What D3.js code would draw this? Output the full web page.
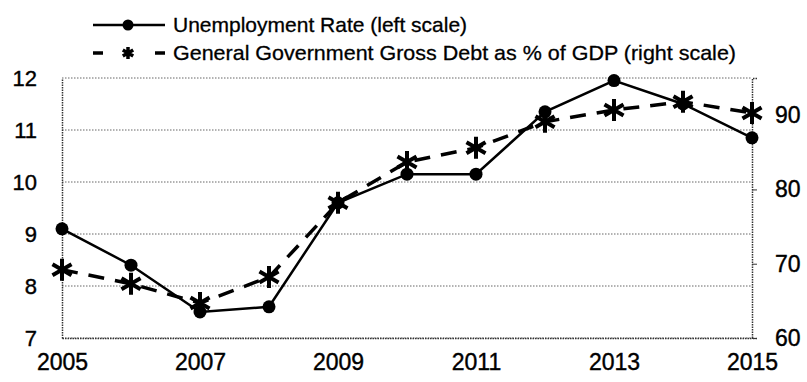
<!DOCTYPE html>
<html>
<head>
<meta charset="utf-8">
<script src="https://cdn.jsdelivr.net/npm/d3@7"></script>
<style>
html,body{margin:0;padding:0;background:#fff;}
svg{display:block;font-family:"Liberation Sans",Arial,sans-serif;}
</style>
</head>
<body>
<svg id="chart" width="807" height="382"></svg>
<script>
const years = [2005,2006,2007,2008,2009,2010,2011,2012,2013,2014,2015];
const unemployment = [9.1,8.4,7.5,7.6,9.6,10.15,10.15,11.35,11.95,11.5,10.85];
const debt = [69.2,67.3,64.7,68.2,78.2,83.7,85.6,89.1,90.7,91.8,90.3];
const leftTicks = [7,8,9,10,11,12];
const rightTicks = [60,70,80,90];
const xTickLabels = [2005,2007,2009,2011,2013,2015];
const legendLabels = ["Unemployment Rate (left scale)","General Government Gross Debt as % of GDP (right scale)"];

const svg = d3.select("#chart");
const L = 62, R = 752, T = 78, B = 338;

const x = d3.scaleLinear().domain([2005,2015]).range([L,R]);
const yL = d3.scaleLinear().domain([7,12]).range([B,T]);
const yR = d3.scaleLinear().domain([60,95]).range([B,T]);

function styleText(sel, size){
  sel.attr("font-size",size).attr("fill","#000").attr("stroke","#000").attr("stroke-width",0.4)
     .attr("font-family","'Liberation Sans',Arial,sans-serif");
}

// gridlines
svg.append("g").selectAll("line").data(leftTicks).join("line")
  .attr("x1",L).attr("x2",R)
  .attr("y1",d=>yL(d)).attr("y2",d=>yL(d))
  .attr("stroke","#666").attr("stroke-width",1).attr("stroke-dasharray","1.5,1.5");

// left axis
const axL = svg.append("g").attr("transform",`translate(${L},0)`)
  .call(d3.axisLeft(yL).tickValues(leftTicks).tickSize(0).tickPadding(25).tickFormat(d3.format("d")));
axL.select(".domain").attr("stroke","#333").attr("stroke-width",1.5).attr("stroke-dasharray","1.5,1");
styleText(axL.selectAll("text"), 22);

// right axis
const axR = svg.append("g").attr("transform",`translate(${R},0)`)
  .call(d3.axisRight(yR).tickValues(rightTicks).tickSize(5).tickPadding(18).tickFormat(d3.format("d")));
axR.select(".domain").attr("stroke","#333").attr("stroke-width",1.5).attr("stroke-dasharray","1.5,1");
axR.selectAll(".tick line").attr("stroke","#333");
styleText(axR.selectAll("text"), 23);

// bottom axis
const axB = svg.append("g").attr("transform",`translate(0,${B})`)
  .call(d3.axisBottom(x).tickValues(xTickLabels).tickSize(0).tickPadding(16).tickFormat(d3.format("d")));
axB.select(".domain").attr("stroke","#333").attr("stroke-width",1.5).attr("stroke-dasharray","1.5,1");
styleText(axB.selectAll("text"), 23);

// asterisk path
function asterisk(cx, cy, r){
  const a = r*Math.cos(Math.PI/6), b = r*Math.sin(Math.PI/6);
  return `M${cx},${cy-r}L${cx},${cy+r}M${cx-a},${cy-b}L${cx+a},${cy+b}M${cx-a},${cy+b}L${cx+a},${cy-b}`;
}

// debt line
svg.append("path").datum(debt)
  .attr("d", d3.line().x((d,i)=>x(years[i])).y(d=>yR(d)))
  .attr("fill","none").attr("stroke","#000").attr("stroke-width",3.5)
  .attr("stroke-dasharray","16,11");

// unemployment line
svg.append("path").datum(unemployment)
  .attr("d", d3.line().x((d,i)=>x(years[i])).y(d=>yL(d)))
  .attr("fill","none").attr("stroke","#000").attr("stroke-width",2.5);

svg.append("g").selectAll("circle").data(unemployment).join("circle")
  .attr("cx",(d,i)=>x(years[i])).attr("cy",d=>yL(d)).attr("r",6.5).attr("fill","#000");

svg.append("g").selectAll("path").data(debt).join("path")
  .attr("d",(d,i)=>asterisk(x(years[i]), yR(d), 11))
  .attr("stroke","#000").attr("stroke-width",4).attr("fill","none");

// legend
const lg = svg.append("g");
lg.append("line").attr("x1",93).attr("x2",165).attr("y1",25).attr("y2",25).attr("stroke","#000").attr("stroke-width",2.5);
lg.append("circle").attr("cx",128).attr("cy",25).attr("r",5.5).attr("fill","#000");
lg.append("line").attr("x1",93).attr("x2",165).attr("y1",53).attr("y2",53).attr("stroke","#000").attr("stroke-width",3.5).attr("stroke-dasharray","10,52,10");
lg.append("path").attr("d",asterisk(128,53,6)).attr("stroke","#000").attr("stroke-width",3.5);
const lt = lg.selectAll("text").data(legendLabels).join("text")
  .attr("x",173).attr("y",(d,i)=>32+i*28).text(d=>d);
styleText(lt, 21);
lt.attr("stroke-width",0.3);
lt.filter((d,i)=>i===1).attr("textLength",563).attr("lengthAdjust","spacingAndGlyphs");
</script>
</body>
</html>
